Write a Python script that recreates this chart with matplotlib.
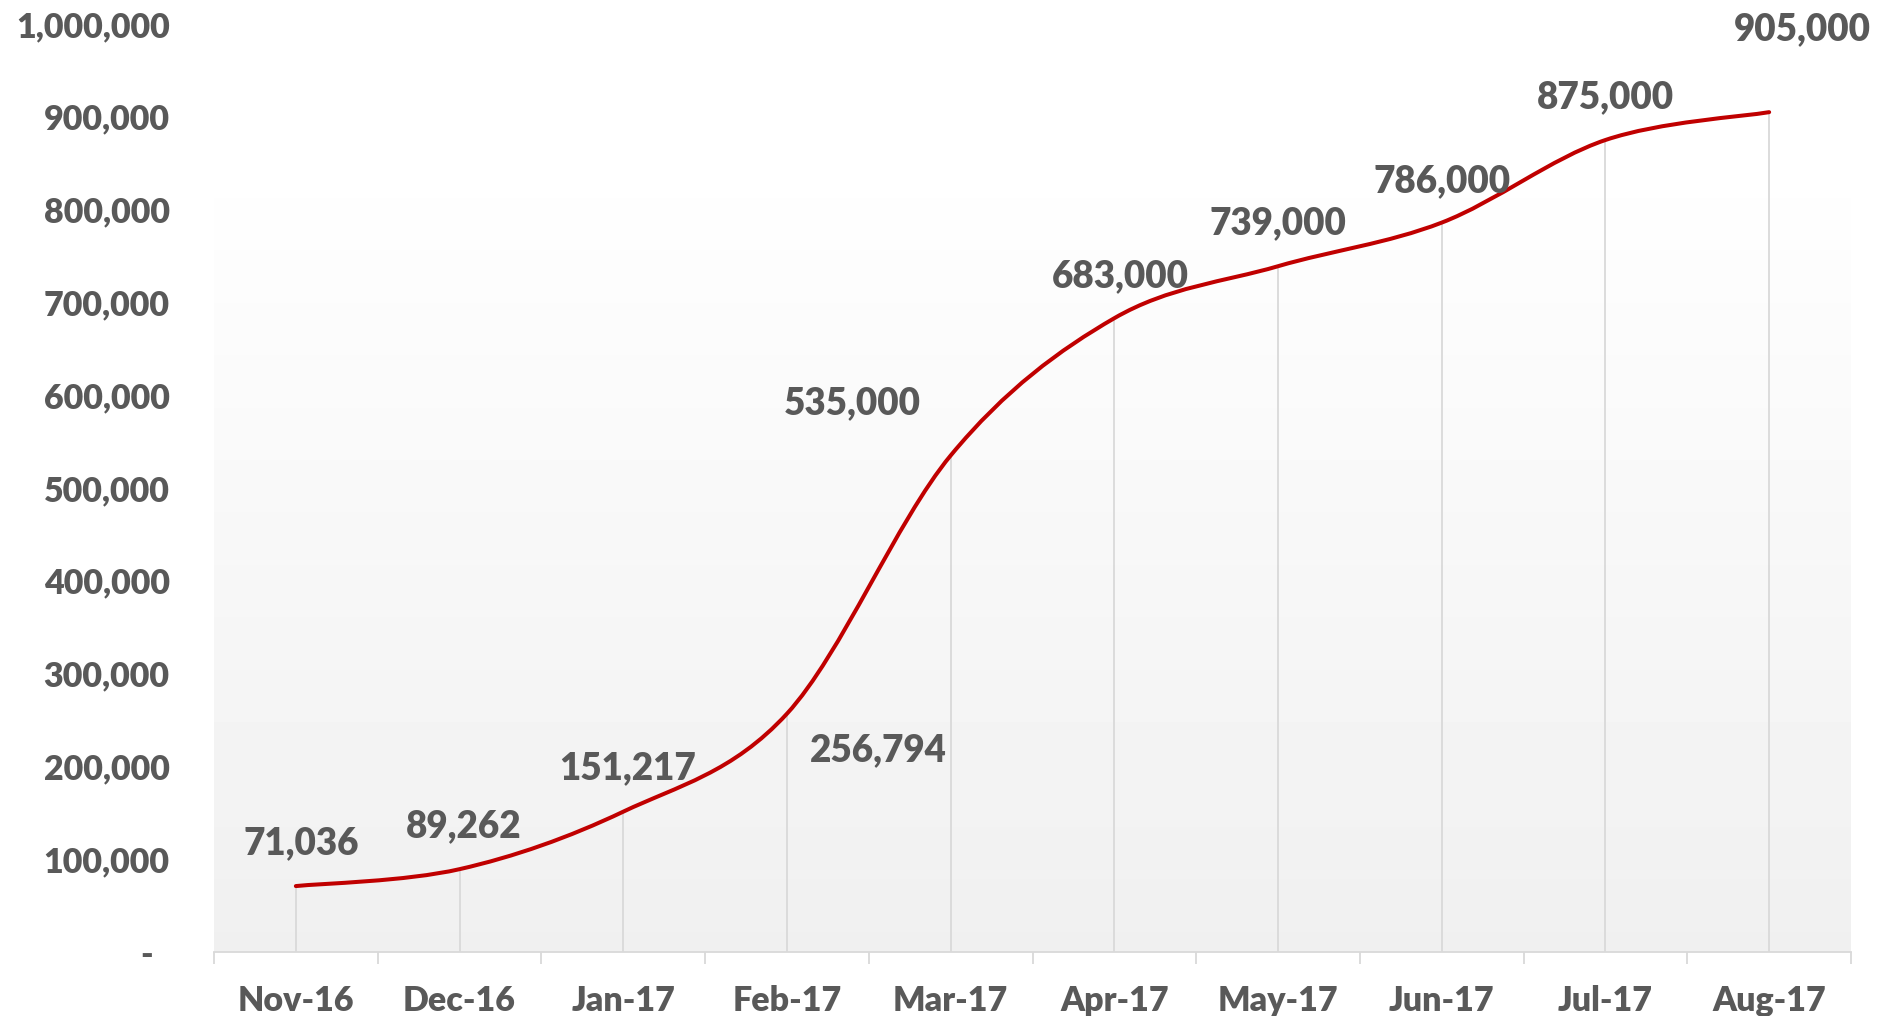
import numpy as np
import matplotlib
matplotlib.use("Agg")
import matplotlib.pyplot as plt
from matplotlib.path import Path
from matplotlib.patches import PathPatch
from matplotlib.ticker import FixedLocator, FuncFormatter

# Monthly cumulative totals
months = ["Nov-16", "Dec-16", "Jan-17", "Feb-17", "Mar-17",
          "Apr-17", "May-17", "Jun-17", "Jul-17", "Aug-17"]
totals = [71036, 89262, 151217, 256794, 535000,
          683000, 739000, 786000, 875000, 905000]
y_ticks = [0, 100000, 200000, 300000, 400000, 500000,
           600000, 700000, 800000, 900000, 1000000]

# Label offsets in points (dx, dy) relative to each data point
label_offsets = [(4, 31), (3, 31), (3, 31), (66, -26), (-71, 38),
                 (4, 30), (0, 31), (0, 30), (0, 31), (24, 60)]

TEXT = "#595959"
RED = "#c00000"
GRID = "#d9d9d9"
FONT = "Lato"
WEIGHT = "heavy"

W, H, DPI = 1879, 1016, 100
fig = plt.figure(figsize=(W / DPI, H / DPI), dpi=DPI)
fig.patch.set_facecolor("white")

left, right, bottom, top = 214, 1851, 952, 24
ax = fig.add_axes([left / W, 1 - bottom / H, (right - left) / W, (bottom - top) / H])
ax.set_xlim(-0.5, len(months) - 0.5)
ax.set_ylim(0, 1000000)
ax.patch.set_alpha(0)

# Soft vertical gradient behind the plot region
grad_top = 870000
grad = np.linspace(0.940, 1.0, 256).reshape(-1, 1)
ax.imshow(grad, extent=(-0.5, len(months) - 0.5, 0, grad_top), origin="lower",
          cmap="gray", vmin=0, vmax=1, aspect="auto", zorder=0, interpolation="bilinear")

x = np.arange(len(months))
y = np.array(totals, dtype=float)

# Drop lines from each point to the category axis
ax.vlines(x, 0, y, colors=GRID, linewidth=1.3, zorder=1)

# Smoothed line through the points (cubic Bezier segments, Catmull-Rom tangents)
pts = np.column_stack([x, y])
ext = np.vstack([pts[0], pts, pts[-1]])
verts = [tuple(pts[0])]
codes = [Path.MOVETO]
for i in range(len(pts) - 1):
    p0, p1, p2, p3 = ext[i], ext[i + 1], ext[i + 2], ext[i + 3]
    c1 = p1 + (p2 - p0) / 6.0
    c2 = p2 - (p3 - p1) / 6.0
    verts += [tuple(c1), tuple(c2), tuple(p2)]
    codes += [Path.CURVE4] * 3
ax.add_patch(PathPatch(Path(verts, codes), facecolor="none", edgecolor=RED,
                       linewidth=2.9, capstyle="round", joinstyle="round", zorder=3))

# Value labels
for xi, yi, (dx, dy) in zip(x, totals, label_offsets):
    ax.annotate(f"{yi:,}", (xi, yi), xytext=(dx, dy), textcoords="offset points",
                ha="center", va="center", fontsize=26.5, fontweight=WEIGHT,
                color=TEXT, family=FONT, zorder=4)

# Axes styling
for s in ["top", "right", "left"]:
    ax.spines[s].set_visible(False)
ax.spines["bottom"].set_color(GRID)
ax.spines["bottom"].set_linewidth(1.3)

ax.xaxis.set_major_locator(FixedLocator(x))
ax.set_xticklabels(months)
ax.xaxis.set_minor_locator(FixedLocator(np.arange(-0.5, len(months), 1.0)))
ax.tick_params(axis="x", which="major", length=0, pad=24)
ax.tick_params(axis="x", which="minor", length=8.5, width=1.3, color=GRID, direction="out")

ax.yaxis.set_major_locator(FixedLocator(y_ticks))
ax.yaxis.set_major_formatter(FuncFormatter(lambda v, p: "-  " if v == 0 else f"{int(v):,}"))
ax.tick_params(axis="y", length=0, pad=32)

for lab in ax.get_xticklabels() + ax.get_yticklabels():
    lab.set_fontfamily(FONT)
    lab.set_fontweight(WEIGHT)
    lab.set_fontsize(24.5)
    lab.set_color(TEXT)

fig.savefig("out.png", dpi=DPI, facecolor="white")
